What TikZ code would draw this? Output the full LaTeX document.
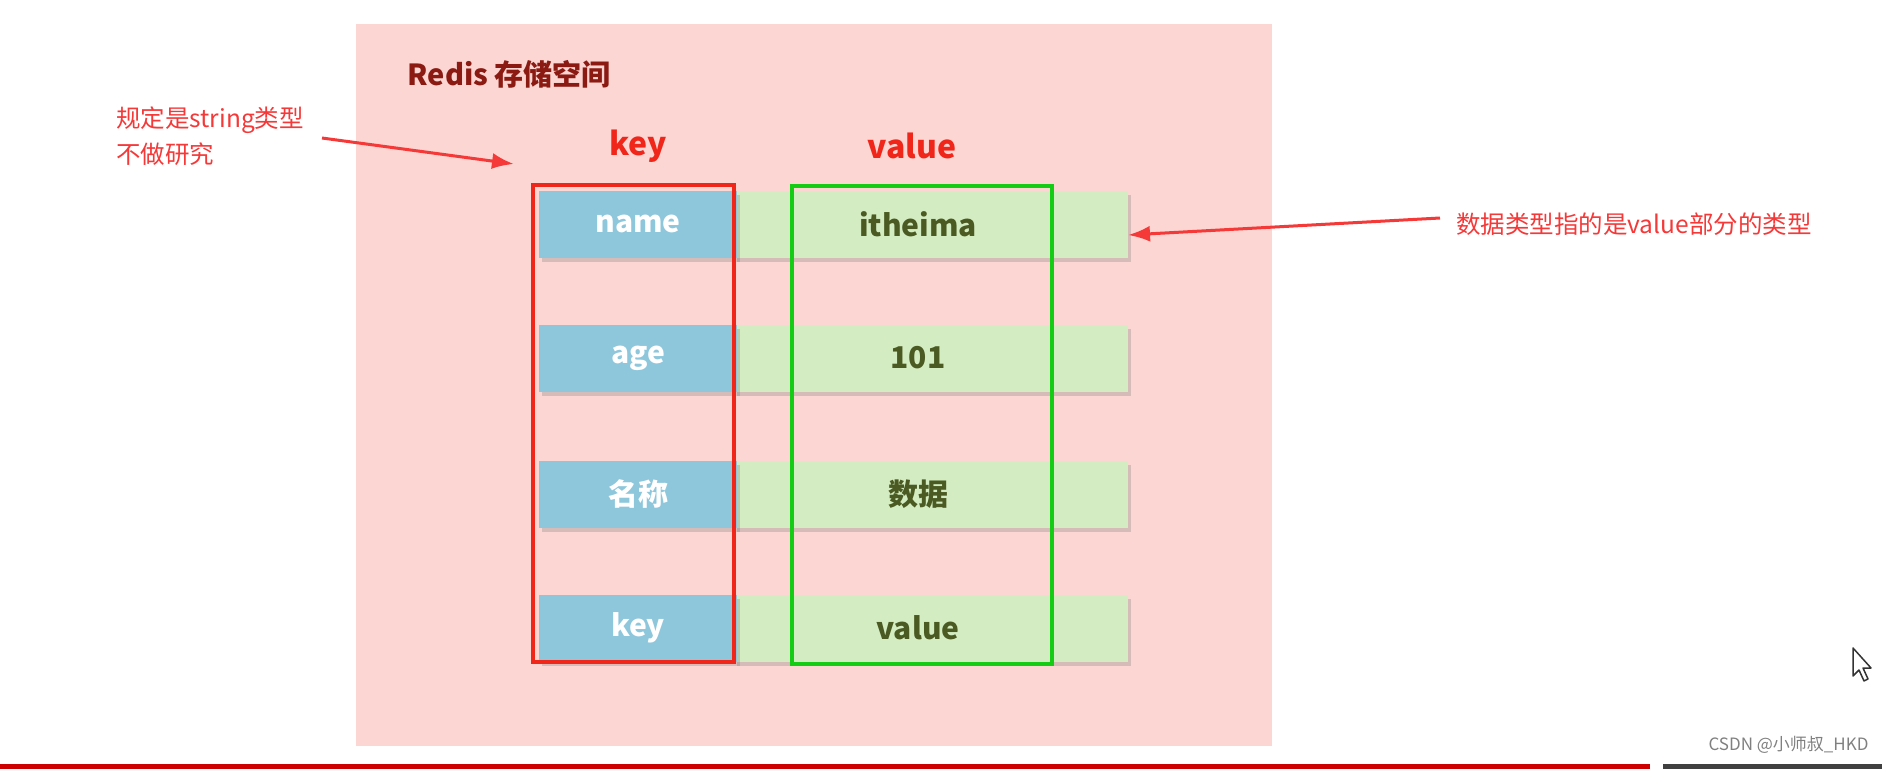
\documentclass[tikz,border=0pt]{standalone}
\usepackage{fontspec}
\setmainfont{Noto Sans CJK SC}
\usetikzlibrary{positioning,arrows.meta,shadows}
\definecolor{bgpink}{HTML}{FBD6D2}
\definecolor{keyblue}{HTML}{8EC7DC}
\definecolor{valgreen}{HTML}{D4ECC2}
\definecolor{valtext}{HTML}{4A5A22}
\definecolor{mred}{HTML}{F0261A}
\definecolor{mgreen}{HTML}{14CC14}
\definecolor{annred}{HTML}{F53838}
\definecolor{titlered}{HTML}{8A1A12}
\tikzstyle{keycell}=[fill=keyblue, minimum width=198pt, minimum height=67pt, inner sep=0pt, text=white, font=\fontsize{30}{34}\selectfont\bfseries, drop shadow={shadow xshift=3pt, shadow yshift=-4pt, opacity=0.3}]
\tikzstyle{valcell}=[fill=valgreen, minimum width=394pt, minimum height=67pt, inner sep=0pt, text=valtext, font=\fontsize{30}{34}\selectfont\bfseries, drop shadow={shadow xshift=3pt, shadow yshift=-4pt, opacity=0.3}]
\tikzstyle{ann}=[text=annred, font=\fontsize{24.5}{36}\selectfont, align=left, inner sep=0pt]
\tikzstyle{arr}=[annred, line width=3pt, -{Latex[length=22pt,width=16pt]}]

\begin{document}
\begin{tikzpicture}[x=1pt, y=-1pt]
    \useasboundingbox (0,0) rectangle (1882,769);
    \fill[bgpink] (356,24) rectangle (1272,746);
    \node[anchor=west, text=titlered, font=\fontsize{29}{32}\selectfont\bfseries] (title) at (404,74) {Redis 存储空间};

    \node[text=mred, font=\fontsize{32}{36}\selectfont\bfseries] (keyh) at (638,146) {key};
    \node[text=mred, font=\fontsize{32}{36}\selectfont\bfseries] (valh) at (912,146) {value};

    \foreach \i/\k/\v/\y in {1/name/itheima/224, 2/age/101/358, 3/名称/数据/494, 4/key/value/628} {
        \node[valcell] (v\i) at (931,\y) {\hspace*{-26pt}\v};
        \node[keycell] (k\i) at (638,\y) {\k};
    }

    \draw[mred, line width=4pt] (533,185) rectangle (734,662);
    \draw[mgreen, line width=4pt] (792,186) rectangle (1052,664);

    \node[ann, anchor=west] (lnote) at (116,136) {规定是string类型\\不做研究};
    \node[ann, anchor=west] (rnote) at (1456,224) {数据类型指的是value部分的类型};
    \coordinate (ltip) at (514,164);
    \coordinate (rtip) at (1128,235);
    \draw[arr] (322,138) -- (ltip);
    \draw[arr] (1440,218) -- (rtip);

    % cursor
    \draw[black!80, fill=white, line width=1.5pt, line join=round] (1853,648) -- (1853,676) -- (1859,670) -- (1864,681) -- (1868,679) -- (1863,668) -- (1871,668) -- cycle;

    \fill[red!80!black] (0,764) rectangle (1650,769);
    \fill[black!75] (1663,764) rectangle (1882,769);
    \node[text=black!50, font=\fontsize{17}{20}\selectfont, anchor=east] (mark) at (1872,745) {CSDN @小师叔\_HKD};
\end{tikzpicture}
\end{document}
